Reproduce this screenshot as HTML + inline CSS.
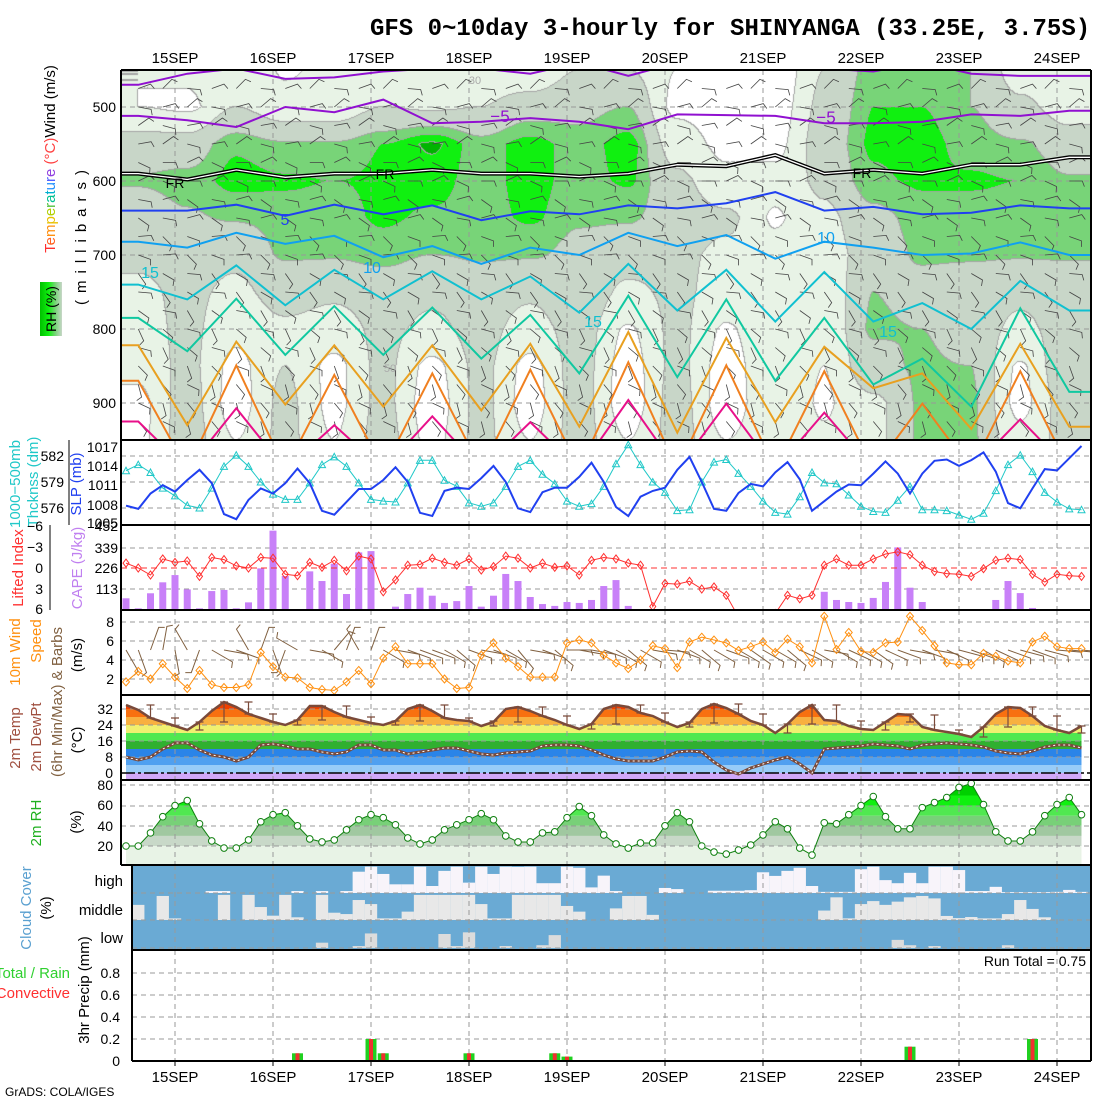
<!DOCTYPE html>
<html><head><meta charset="utf-8">
<style>
body{margin:0;background:#fff;width:1100px;height:1100px;overflow:hidden;position:relative;font-family:"Liberation Sans",sans-serif}
#rhc{position:absolute;left:121px;top:70px}
#svg{position:absolute;left:0;top:0}
text{font-family:"Liberation Sans",sans-serif}
</style></head>
<body>
<canvas id="rhc" width="970" height="370"></canvas>
<svg id="svg" xmlns="http://www.w3.org/2000/svg" width="1100" height="1100">
<defs>
<clipPath id="c1"><rect x="121" y="70" width="970" height="370"/></clipPath>
<clipPath id="c3"><rect x="121" y="525" width="970" height="85"/></clipPath>
<clipPath id="c4"><rect x="121" y="610" width="970" height="85"/></clipPath>
<linearGradient id="rhleg" x1="0" x2="1" y1="0" y2="0"><stop offset="0" stop-color="#00c000"/><stop offset="0.4" stop-color="#10f010"/><stop offset="0.7" stop-color="#78d478"/><stop offset="1" stop-color="#c8d6c8"/></linearGradient>
</defs>
<text x="370" y="35" font-size="24" font-weight="bold" style="font-family:'Liberation Mono',monospace">GFS 0~10day 3-hourly for SHINYANGA (33.25E, 3.75S)</text>
<g id="dyn"></g>
<g font-size="14" fill="#000">
<text transform="translate(55,159) rotate(-90)" text-anchor="middle" font-size="15"><tspan fill="#ff3030">T</tspan><tspan fill="#ff6020">e</tspan><tspan fill="#ff9010">m</tspan><tspan fill="#e8c000">p</tspan><tspan fill="#b0d000">e</tspan><tspan fill="#50c040">r</tspan><tspan fill="#00c090">a</tspan><tspan fill="#00b0d0">t</tspan><tspan fill="#2090ff">u</tspan><tspan fill="#5060ff">r</tspan><tspan fill="#9040e0">e</tspan><tspan fill="#ff4040"> (°C)</tspan><tspan fill="#000">Wind (m/s)</tspan></text>
<rect x="40" y="282" width="22" height="54" fill="url(#rhleg)"/>
<text transform="translate(56,309) rotate(-90)" text-anchor="middle" font-size="14">RH (%)</text>
<text transform="translate(86,234) rotate(-90)" text-anchor="middle" font-size="15" letter-spacing="7">(millibars)</text>
<g text-anchor="end">
<text x="116" y="112">500</text><text x="116" y="186">600</text><text x="116" y="260">700</text><text x="116" y="334">800</text><text x="116" y="408">900</text></g>
<text transform="translate(20,484) rotate(-90)" text-anchor="middle" fill="#20c8c8" font-size="15">1000−500mb</text>
<text transform="translate(38,482) rotate(-90)" text-anchor="middle" fill="#20c8c8" font-size="15">Thcknss (dm)</text>
<text transform="translate(81,484) rotate(-90)" text-anchor="middle" fill="#2040f0" font-size="15">SLP (mb)</text>
<line x1="69" y1="440" x2="69" y2="525" stroke="#000"/>
<g text-anchor="end"><text x="64" y="461">582</text><text x="64" y="487">579</text><text x="64" y="513">576</text></g>
<g text-anchor="end"><text x="118" y="452">1017</text><text x="118" y="471">1014</text><text x="118" y="490">1011</text><text x="118" y="510">1008</text><text x="118" y="528">1005</text></g>
<text transform="translate(23,568) rotate(-90)" text-anchor="middle" fill="#ff3030" font-size="15">Lifted Index</text>
<line x1="50" y1="525" x2="50" y2="610" stroke="#000"/>
<g text-anchor="end"><text x="43" y="531">−6</text><text x="43" y="552">−3</text><text x="43" y="573">0</text><text x="43" y="594">3</text><text x="43" y="614">6</text></g>
<text transform="translate(82,568) rotate(-90)" text-anchor="middle" fill="#c080f0" font-size="15">CAPE (J/kg)</text>
<g text-anchor="end"><text x="118" y="531">452</text><text x="118" y="553">339</text><text x="118" y="573">226</text><text x="118" y="594">113</text></g>
<text transform="translate(20,652) rotate(-90)" text-anchor="middle" fill="#ff9010" font-size="15">10m Wind</text>
<text transform="translate(41,641) rotate(-90)" text-anchor="middle" fill="#ff9010" font-size="15">Speed</text>
<text transform="translate(62,702) rotate(-90)" text-anchor="middle" fill="#806040" font-size="15">(6hr Min/Max) &amp; Barbs</text>
<text transform="translate(82,655) rotate(-90)" text-anchor="middle" font-size="15">(m/s)</text>
<g text-anchor="end"><text x="114" y="627">8</text><text x="114" y="646">6</text><text x="114" y="665">4</text><text x="114" y="684">2</text></g>
<text transform="translate(20,738) rotate(-90)" text-anchor="middle" fill="#a05040" font-size="15">2m Temp</text>
<text transform="translate(41,737) rotate(-90)" text-anchor="middle" fill="#a05040" font-size="15">2m DewPt</text>
<text transform="translate(82,740) rotate(-90)" text-anchor="middle" font-size="15">(°C)</text>
<g text-anchor="end"><text x="113" y="714">32</text><text x="113" y="730">24</text><text x="113" y="746">16</text><text x="113" y="762">8</text><text x="113" y="778">0</text></g>
<text transform="translate(41,823) rotate(-90)" text-anchor="middle" fill="#20b020" font-size="15">2m RH</text>
<text transform="translate(81,822) rotate(-90)" text-anchor="middle" font-size="15">(%)</text>
<g text-anchor="end"><text x="113" y="790">80</text><text x="113" y="810">60</text><text x="113" y="831">40</text><text x="113" y="851">20</text></g>
<text transform="translate(31,908) rotate(-90)" text-anchor="middle" fill="#5aa0d0" font-size="15">Cloud Cover</text>
<text transform="translate(51,908) rotate(-90)" text-anchor="middle" font-size="15">(%)</text>
<g text-anchor="end" font-size="15"><text x="123" y="886">high</text><text x="123" y="915">middle</text><text x="123" y="943">low</text></g>
<text x="70" y="978" text-anchor="end" fill="#30d030" font-size="15">Total / Rain</text>
<text x="70" y="998" text-anchor="end" fill="#ff3030" font-size="15">Convective</text>
<text transform="translate(89,990) rotate(-90)" text-anchor="middle" font-size="15">3hr Precip (mm)</text>
<g text-anchor="end"><text x="120" y="978">0.8</text><text x="120" y="1000">0.6</text><text x="120" y="1022">0.4</text><text x="120" y="1044">0.2</text><text x="120" y="1066">0</text></g>
<text x="1086" y="966" text-anchor="end" font-size="14">Run Total = 0.75</text>
<text x="5" y="1096" font-size="12">GrADS: COLA/IGES</text>
</g>
</svg>
<script>
const slp=[1007.7,1007.2,1009.6,1010.9,1009.9,1011.7,1013.3,1011.2,1006.4,1005.6,1008.6,1010.4,1009.6,1011.2,1013.5,1011.2,1006.9,1006.3,1008.3,1010.3,1010.3,1011.7,1013.7,
1011.4,1006.6,1006.1,1010.0,1010.5,1010.3,1012.0,1013.9,1011.4,1007.3,1006.7,1009.8,1010.5,1010.5,1012.2,1014.4,1011.4,1007.5,1006.1,1009.1,1010.0,1010.5,1013.3,1015.3,1011.4,1007.2,1006.9,
1009.7,1011.1,1010.7,1012.9,1014.5,1011.8,1006.9,1008.4,1009.9,1011.0,1010.9,1012.7,1014.6,1012.7,1009.6,1012.7,1014.7,1014.9,1013.9,1014.8,1016.0,1013.0,1008.1,1007.3,1010.4,1013.4,1013.2,1015.1,1017.0];
const thk=[580.3,581.0,580.1,578.3,577.4,576.3,576.0,578.3,580.8,582.1,580.8,579.0,577.6,577.0,577.0,578.9,581.0,581.9,580.8,578.9,577.0,576.8,
576.7,578.9,581.5,581.5,579.2,578.5,576.6,576.2,576.6,578.5,580.8,581.5,579.9,578.8,576.8,576.2,576.5,578.5,581.1,583.3,581.0,579.0,577.8,575.7,575.8,579.0,581.3,581.6,
580.0,578.5,576.8,575.5,575.3,577.3,580.1,578.9,578.8,577.5,576.2,575.6,575.5,576.9,578.5,575.8,575.8,575.7,575.2,574.7,575.4,578.0,581.0,582.1,580.2,577.8,576.7,575.9,575.8];
const cape=[63,9,90,149,188,111,9,102,108,9,41,224,427,183,4,208,156,249,86,310,317,0,18,
86,120,77,38,48,129,18,77,194,156,70,32,22,43,38,54,129,161,22,5,
0,0,0,0,0,0,0,0,0,0,0,0,0,0,
98,54,43,38,65,151,337,120,43,5,0,0,0,5,54,156,91,11,5,0,0,0];
const liftedIndex=[-0.7,0,1,-1.3,-0.8,-1,1.2,-1.5,-1.2,-0.3,0,-1.5,-1.4,0.9,1.1,-0.8,-0.1,-1.1,0.4,-1.7,-1.3,3.4,
1.7,-0.4,-0.5,-1.4,-0.8,-0.4,-1.3,0.3,-0.2,-1.7,-1.4,0,-0.7,-0.1,-0.3,1,-1.1,-1.5,-1.3,-0.7,-0.4,5.5,2.2,2.3,1.9,3,2.7,3.9,
7,7,7,6.5,3.9,4.4,3.9,-0.4,-1.3,-0.4,-0.4,-1.3,-2,-2.3,-1.9,-0.4,0.5,0.8,0.9,1.2,0.1,-1.1,-1.4,-1.2,0.9,2,0.9,1.1,1.2];
const windSpeed=[1.7,2.8,2,3.6,2.2,1,2.9,1.4,1.1,1.1,1.4,4.8,3.3,2.2,2.1,1.1,0.9,0.8,1.7,2.9,1.5,4.2,
5.4,3.6,3.6,3.6,2,1,1.1,4.5,5.8,4.2,3.3,2.2,2.2,2.2,5.8,6.1,5.8,4.5,3.7,3.1,4,5.5,5.2,3.2,5.9,6.4,6.1,5.8,
5,5.4,5.9,4.8,6.2,5.4,3.7,8.6,5.1,6.9,4.9,4.8,5.8,5.9,8.6,7.1,5.5,3.7,3.5,3.5,4.7,4.4,3.9,3.7,5.9,6.5,5.4,5.2,5.2];
const windDir=[150,160,20,10,170,330,200,120,100,110,330,20,160,200,300,100,120,40,20,330,20,120,
100,110,110,110,120,130,110,100,110,120,140,100,110,130,90,100,100,110,120,130,120,100,95,110,120,130,120,110,
120,125,120,120,130,115,120,100,120,115,120,125,115,110,100,110,100,115,105,110,120,115,110,105,110,105,95,95,95];
const temp2m=[34,31.5,27.5,25.5,23.5,21.5,25.5,31,35.5,33,29.5,27.5,25.5,24,26.5,33.5,33.5,30.5,28,26.5,25,24,26,
32,34,31,27.5,26.5,26,23.5,25.5,32,33,31,28.5,26.5,24,22,24.5,32,34,33,30,28.5,25.5,23,25,32,34.5,32.5,29.5,
26,24,20,24.5,30.5,34,26.5,26,23.5,22,21.5,25.5,29.5,29,23,21.5,20.5,19.5,18,23,29.5,33,32.5,28.5,23.5,21.5,20,23.5];
const dewpt2m=[8,6.5,8,12,15,15,11.5,9,8,6,8,14,14.5,13.5,12,12,10.5,9.5,10.5,14,14,11.5,11.5,
9.5,10.5,11.5,12.5,12.5,11,9.5,9,10,10.5,11,13.5,14,14,13.5,11.5,9,7,6,6,6,8,10.5,11,10.5,5.5,1.5,-0.5,
2.5,4.5,6.5,8,4.5,0,12,12.5,13,13.5,14.5,14,13.5,12,14,14.5,15,14.5,14,13,11,10,9.5,11,13,14,14,12.5];
const rh2m=[20,20,33,49,60,65,42,25,18,18,26,44,51,53,40,27,24,26,36,46,51,48,
41,28,22,26,36,41,46,52,46,30,24,24,33,34,48,59,50,31,22,18,23,23,40,53,44,20,14,12,
16,21,31,44,37,18,11,43,42,51,60,69,49,37,37,58,63,68,78,82,61,34,25,25,34,50,61,68,51];
const cloudHigh=[0,0,0,0,0,0,0,.07,.07,0,0,0,0,0,.07,0,.07,0,.07,.76,.94,.68,.31,.31,.94,.25,.79,.94,.37,.94,.68,.94,.93,.94,.35,.35,.94,.9,.2,.62,.07,0,0,0,.18,.14,0,0,.08,.08,.08,.1,.74,.61,.79,.9,.25,.04,.04,.04,.85,.94,.46,.35,.72,.35,.94,.94,.82,.07,.07,.22,.03,.03,.03,.03,.04,.11,.04];
const cloudMid=[0,.56,0,.89,.06,0,0,0,.93,0,.93,.48,.16,.93,.1,0,.93,.27,.22,.74,.59,.06,.06,.31,.93,.93,.93,.93,.93,.59,.06,.06,.93,.93,.93,.93,.52,.31,0,0,.43,.89,.89,.19,0,0,0,0,0,0,0,0,0,0,0,0,0,.35,.84,.06,.59,.7,.56,.68,.84,.89,.8,.15,.07,.11,.06,.06,.22,.74,.41,.1,0,0,0];
const cloudLow=[0,0,0,0,0,0,0,0,0,0,0,0,0,0,0,0,.19,0,0,.07,.52,0,0,0,0,0,.5,.07,.56,0,0,.07,0,0,.1,.46,0,0,0,0,0,0,0,0,0,0,0,0,0,0,0,0,0,0,0,0,0,0,0,0,0,0,0,.29,.1,0,.07,0,0,0,0,0,.1,0,0,0,0,0,0];
const precipTotal=[0,0,0,0,0,0,0,0,0,0,0,0,0,0,.07,0,0,0,0,0,.2,.07,0,0,0,0,0,0,.07,0,0,0,0,0,0,.07,.04,0,0,0,0,0,0,0,0,0,0,0,0,0,0,0,0,0,0,0,0,0,0,0,0,0,0,0,.13,0,0,0,0,0,0,0,0,0,.2,0,0,0,0];
const precipConv=[0,0,0,0,0,0,0,0,0,0,0,0,0,0,.07,0,0,0,0,0,.2,.07,0,0,0,0,0,0,.07,0,0,0,0,0,0,.07,.04,0,0,0,0,0,0,0,0,0,0,0,0,0,0,0,0,0,0,0,0,0,0,0,0,0,0,0,.13,0,0,0,0,0,0,0,0,0,.2,0,0,0,0];
const dayLabels=['15SEP','16SEP','17SEP','18SEP','19SEP','20SEP','21SEP','22SEP','23SEP','24SEP'];
const csLevels=[450,500,550,600,650,700,750,800,850,900,950];
const rhCols=[
[30,30,60,72,60,55,45,40,35,25,25],[35,25,60,75,68,58,55,55,55,58,60],[50,50,78,84,72,55,45,35,25,22,30],[28,35,72,82,75,72,60,45,50,55,55],
[35,35,72,80,75,72,55,40,25,25,30],[35,50,80,82,82,75,60,55,55,55,58],[35,45,92,85,78,70,55,45,25,20,25],[40,50,75,75,75,72,62,58,55,55,55],
[35,60,85,85,82,72,55,40,25,22,30],[50,65,75,75,72,65,68,60,58,58,58],[50,70,85,82,72,60,45,28,22,20,30],[30,25,40,55,60,55,55,55,55,58,58],
[15,20,25,35,55,45,40,28,22,20,30],[15,20,25,35,28,35,40,45,45,45,45],[50,55,60,55,45,40,35,35,30,28,32],[75,80,82,78,65,60,70,72,65,45,45],
[78,80,85,82,75,72,65,70,72,72,72],[70,70,75,82,75,72,62,62,70,72,72],[40,55,72,80,75,72,55,45,28,25,35],[35,40,60,72,72,72,60,60,68,60,58]];
const isoM10=[470,455,448,462,460,452,448,448,455,440,458,440,440,440,448,452,440,455,458,458];
const isoM5=[512,518,527,500,507,490,522,520,515,520,530,510,511,512,522,522,520,510,512,505];
const isoFR=[590,598,585,595,590,590,585,590,590,594,590,578,580,565,590,585,590,578,578,568];
const iso5=[640,640,632,647,632,645,633,653,641,645,633,637,630,615,640,635,645,643,633,637];
const iso10=[682,690,670,685,674,703,688,712,690,700,670,688,673,705,682,690,700,698,683,700];
const iso15=[740,760,714,768,720,760,722,760,729,778,712,775,720,790,723,790,765,800,735,775];
const iso20=[785,830,759,835,769,835,771,840,781,860,755,865,760,870,785,875,840,905,772,885];
const iso25=[822,930,817,902,822,905,822,910,820,932,804,940,812,926,824,880,860,935,820,932];
const iso30=[870,990,849,990,862,990,860,990,855,990,845,990,849,990,857,990,901,990,857,990];
const iso35=[925,990,907,990,930,990,918,990,926,990,896,990,901,990,913,990,990,990,922,990];
const barbLevels=[475,500,525,550,575,600,625,650,675,700,725,750,775,800,825,850,875,900,925];
const barbLevelDir=[70,75,80,80,90,90,100,100,110,110,120,120,125,130,130,135,140,140,140];

const NS='http://www.w3.org/2000/svg';
const root=document.getElementById('dyn');
function mk(tag,attrs,parent){const e=document.createElementNS(NS,tag);for(const k in attrs)e.setAttribute(k,attrs[k]);(parent||root).appendChild(e);return e;}
const N=79;
const xOf=i=>126+i*12.25;
const dayX=d=>175+98*d;
const colX=k=>xOf(1+4*k);
const yP=p=>107+(p-500)*0.74;
const ySLP=v=>446+(1017-v)*6.42;
const yThk=v=>456+(582-v)*8.67;
const yCape=v=>610-v*0.1858;
const yLI=v=>568+v*7;
const yW=v=>679-(v-2)*9.5;
const yT=v=>773-v*2;
const yR=v=>846-(v-20)*1.01;
const yPr=v=>1061-v*110;
const pts=(arr,fy)=>arr.map((v,i)=>xOf(i).toFixed(1)+','+fy(v).toFixed(1)).join(' ');

(function(){
 const cv=document.getElementById('rhc');const ctx=cv.getContext('2d');
 const W=970,H=370;const img=ctx.createImageData(W,H);const lv=new Uint8Array(W*H);
 const th=[30,50,70,80,90];
 const cols=[[255,255,255],[232,243,230],[200,214,200],[120,212,120],[16,240,16],[0,180,0]];
 for(let px=0;px<W;px++){
  let kf=(121+px+0.5-colX(0))/49;kf=Math.max(0,Math.min(19,kf));
  let k0=Math.min(18,Math.floor(kf));let f=kf-k0;f=(1-Math.cos(f*Math.PI))/2;
  for(let py=0;py<H;py++){
   const p=500+(70+py+0.5-107)/0.74;let lf=(p-450)/50;lf=Math.max(0,Math.min(10,lf));
   const l0=Math.min(9,Math.floor(lf));const g=lf-l0;
   const a=rhCols[k0][l0]*(1-g)+rhCols[k0][l0+1]*g;
   const b=rhCols[k0+1][l0]*(1-g)+rhCols[k0+1][l0+1]*g;
   const v=a*(1-f)+b*f;let L=0;for(const t of th)if(v>=t)L++;
   lv[py*W+px]=L;
  }
 }
 for(let py=0;py<H;py++)for(let px=0;px<W;px++){
  const L=lv[py*W+px];let c=cols[L];
  if((px<W-1&&lv[py*W+px+1]!==L)||(py<H-1&&lv[(py+1)*W+px]!==L))c=[165,165,165];
  const o=(py*W+px)*4;img.data[o]=c[0];img.data[o+1]=c[1];img.data[o+2]=c[2];img.data[o+3]=255;
 }
 ctx.putImageData(img,0,0);
})();

const g1=mk('g',{'clip-path':'url(#c1)'});


for(let d=0;d<10;d++){const l=mk('line',{x1:dayX(d),x2:dayX(d),y1:70,y2:440,stroke:'#999','stroke-dasharray':'5,4'},g1);

}
[500,600,700,800,900].forEach(p=>{const l=mk('line',{x1:121,x2:1091,y1:yP(p),y2:yP(p),stroke:'#999','stroke-dasharray':'5,4'},g1);

});
function barb(parent,x,y,dir,L,color,name,w){
 const r=dir*Math.PI/180;const ex=x+Math.sin(r)*L,ey=y-Math.cos(r)*L;
 const tx=ex+Math.sin(r+Math.PI/2.6)*6,ty=ey-Math.cos(r+Math.PI/2.6)*6;
 const e=mk('path',{d:`M${x.toFixed(1)},${y.toFixed(1)}L${ex.toFixed(1)},${ey.toFixed(1)}L${tx.toFixed(1)},${ty.toFixed(1)}`,stroke:color,'stroke-width':w||1,fill:'none'},parent);
 
 
}
barbLevels.forEach((p,j)=>{for(let i=1;i<N;i+=2){barb(g1,xOf(i),yP(p),barbLevelDir[j]+((i+j)%3-1)*25,13,'#444','upper-wind-barb',0.8);}});
const isos=[[isoM10,'#9010d0',2,'isotherm-minus10'],[isoM5,'#9010d0',2,'isotherm-minus5'],[iso5,'#2040f0',2,'isotherm-5'],[iso10,'#10a0f0',2,'isotherm-10'],[iso15,'#10c0d0',2,'isotherm-15'],[iso20,'#10c8a0',2,'isotherm-20'],[iso25,'#e8a020',2,'isotherm-25'],[iso30,'#f08020',2,'isotherm-30'],[iso35,'#e8108a',2,'isotherm-35']];
function isoPts(arr){const a=[[121,yP(arr[0])]];arr.forEach((p,k)=>a.push([colX(k),yP(p)]));a.push([1091,yP(arr[19])]);return a.map(q=>q[0].toFixed(1)+','+q[1].toFixed(1)).join(' ');}
isos.forEach(s=>{const e=mk('polyline',{points:isoPts(s[0]),fill:'none',stroke:s[1],'stroke-width':s[2]},g1);

});
const fr1=mk('polyline',{points:isoPts(isoFR),fill:'none',stroke:'#000','stroke-width':4},g1);


const fr2=mk('polyline',{points:isoPts(isoFR),fill:'none',stroke:'#fff','stroke-width':1.3},g1);


const clabels=[['−5',500,122,'#9010d0',17],['−5',826,123,'#9010d0',17],['FR',175,188,'#000',14],['FR',385,179,'#000',14],['FR',862,178,'#000',14],['5',285,225,'#2040f0',16],['10',372,273,'#10a0f0',16],['10',826,243,'#10a0f0',16],['15',150,278,'#10c0d0',16],['15',593,327,'#10c0d0',16],['15',888,337,'#10c0d0',16],['30',475,84,'#aaa',11],['50',390,372,'#aaa',11]];
clabels.forEach(c=>{const t=mk('text',{x:c[1],y:c[2],fill:c[3],'font-size':c[4],'text-anchor':'middle'},g1);t.textContent=c[0];

});

function gridV(y1,y2){for(let d=0;d<10;d++){const l=mk('line',{x1:dayX(d),x2:dayX(d),y1:y1,y2:y2,stroke:'#999','stroke-dasharray':'5,4'});

}}
function gridH(y,x1){const l=mk('line',{x1:x1||121,x2:1091,y1:y,y2:y,stroke:'#999','stroke-dasharray':'5,4'});

}

gridV(440,525);[456,482,508].forEach(y=>gridH(y));
const thkLine=mk('polyline',{points:pts(thk,yThk),fill:'none',stroke:'#20c8c8','stroke-width':1});


thk.forEach((v,i)=>{const x=xOf(i),y=yThk(v);const t=mk('path',{d:`M${x-3.5},${y+3}L${x+3.5},${y+3}L${x},${y-3.5}Z`,fill:'none',stroke:'#20c8c8'});

});
const slpLine=mk('polyline',{points:pts(slp,ySLP),fill:'none',stroke:'#2040f0','stroke-width':2});



gridV(525,610);[548,589].forEach(y=>gridH(y));
cape.forEach((v,i)=>{if(v<=0)return;const r=mk('rect',{x:xOf(i)-3.5,y:yCape(v),width:7,height:610-yCape(v),fill:'#c880f8'});

});
const liZero=mk('line',{x1:121,x2:1091,y1:yLI(0),y2:yLI(0),stroke:'#ff3030','stroke-dasharray':'6,4'});


const g3=mk('g',{'clip-path':'url(#c3)'});


const liLine=mk('polyline',{points:pts(liftedIndex,yLI),fill:'none',stroke:'#ff3030','stroke-width':1},g3);


liftedIndex.forEach((v,i)=>{const x=xOf(i),y=yLI(v);const d=mk('path',{d:`M${x},${y-4}L${x+3},${y}L${x},${y+4}L${x-3},${y}Z`,fill:'none',stroke:'#ff3030'},g3);

});

gridV(610,695);[622,641,660,679].forEach(y=>gridH(y));
const g4=mk('g',{'clip-path':'url(#c4)'});


windDir.forEach((d,i)=>barb(g4,xOf(i),650,d,24,'#806040','surface-wind-barb',1));
const wl=mk('polyline',{points:pts(windSpeed,yW),fill:'none',stroke:'#ff9010','stroke-width':1},g4);


windSpeed.forEach((v,i)=>{const x=xOf(i),y=yW(v);const d=mk('path',{d:`M${x},${y-4}L${x+3.5},${y}L${x},${y+4}L${x-3.5},${y}Z`,fill:'none',stroke:'#ff9010'},g4);

});

const tcp=mk('clipPath',{id:'tclip'});


const tArea=mk('path',{d:'M'+xOf(0)+',780L'+temp2m.map((v,i)=>xOf(i).toFixed(1)+','+yT(v).toFixed(1)).join('L')+'L'+xOf(N-1)+',780Z'},tcp);


const tBands=[[-5,0,'#d0a8f8'],[0,4,'#98ccf8'],[4,8,'#50a0f0'],[8,12,'#2a84e8'],[12,16,'#30b030'],[16,20,'#50e850'],[20,24,'#f0f070'],[24,28,'#f8b040'],[28,32,'#f87010'],[32,36,'#f04000'],[36,45,'#d02000']];
const tg=mk('g',{'clip-path':'url(#tclip)'});


tBands.forEach(b=>{const y1=Math.max(yT(b[1]),695),y2=Math.min(yT(b[0]),780);const r=mk('rect',{x:xOf(0),y:y1,width:xOf(N-1)-xOf(0),height:y2-y1,fill:b[2]},tg);

});
gridV(695,780);[709,725,741,757].forEach(y=>gridH(y));
const zl=mk('line',{x1:121,x2:1091,y1:yT(0),y2:yT(0),stroke:'#000','stroke-width':1.5,'stroke-dasharray':'14,3,3,3'});


for(let i=2;i<N;i+=2){const w=temp2m.slice(i-2,i+1);const hi=yT(Math.max(...w)),lo=yT(Math.min(...w)),x=xOf(i);
const e=mk('path',{d:`M${x},${hi}L${x},${lo}M${x-4},${hi}L${x+4},${hi}M${x-4},${lo}L${x+4},${lo}`,stroke:'#7a4a3a','stroke-width':1.2,fill:'none'});

}
const tl=mk('polyline',{points:pts(temp2m,yT),fill:'none',stroke:'#7a4a3a','stroke-width':2.5});


const dl=mk('polyline',{points:pts(dewpt2m,yT),fill:'none',stroke:'#7a4a3a','stroke-width':3});


const dl2=mk('polyline',{points:pts(dewpt2m,yT),fill:'none',stroke:'#fff','stroke-width':1,'stroke-dasharray':'2,3'});



const rcp=mk('clipPath',{id:'rclip'});


const rArea=mk('path',{d:'M'+xOf(0)+',865L'+rh2m.map((v,i)=>xOf(i).toFixed(1)+','+yR(v).toFixed(1)).join('L')+'L'+xOf(N-1)+',865Z'},rcp);


const rBands=[[0,20,'#e8f3e6'],[20,30,'#c8d8c8'],[30,40,'#a0c8a0'],[40,50,'#78d078'],[50,60,'#50e850'],[60,70,'#10f010'],[70,80,'#00d000'],[80,100,'#00b400']];
const rg=mk('g',{'clip-path':'url(#rclip)'});


rBands.forEach(b=>{const y1=Math.max(yR(b[1]),780),y2=Math.min(yR(b[0]),865);const r=mk('rect',{x:xOf(0),y:y1,width:xOf(N-1)-xOf(0),height:y2-y1,fill:b[2]},rg);

});
gridV(780,865);[785,806,826,846].forEach(y=>gridH(y));
const rl=mk('polyline',{points:pts(rh2m,yR),fill:'none',stroke:'#108010','stroke-width':1});


rh2m.forEach((v,i)=>{const c=mk('circle',{cx:xOf(i),cy:yR(v),r:3.3,fill:'#fff',stroke:'#108010'});

});

const cbg=mk('rect',{x:132,y:865,width:959,height:85,fill:'#6aaad4'});


const layers=[[cloudHigh,893,28,'#f8f4fa','cloud-high-bar'],[cloudMid,920,27,'#e8e8e8','cloud-mid-bar'],[cloudLow,948,28,'#dcdcdc','cloud-low-bar']];
layers.forEach(L=>{L[0].forEach((v,i)=>{if(i===0||v<=0)return;const h=v*L[2];const r=mk('rect',{x:xOf(i)-6.125,y:L[1]-h,width:12.3,height:h,fill:L[3]});

});});
gridV(865,950);[893,920,948].forEach(y=>gridH(y,132));

gridV(950,1061);[973,995,1017,1039].forEach(y=>gridH(y,132));
precipTotal.forEach((v,i)=>{if(v<=0)return;const r=mk('rect',{x:xOf(i)-5.5,y:yPr(v),width:11,height:1061-yPr(v),fill:'#20d020'});

});
precipConv.forEach((v,i)=>{if(v<=0)return;const r=mk('rect',{x:xOf(i)-2,y:yPr(v),width:4,height:1061-yPr(v),fill:'#f03030'});

});

const frames=[[121,70,1091,70],[121,440,1091,440],[121,525,1091,525],[121,610,1091,610],[121,695,1091,695],[121,780,1091,780],[121,865,1091,865],[132,950,1091,950],[132,1061,1091,1061],[121,70,121,865],[132,865,132,1061],[1091,70,1091,1061]];
frames.forEach(f=>{const l=mk('line',{x1:f[0],y1:f[1],x2:f[2],y2:f[3],stroke:'#000','stroke-width':2});

});
dayLabels.forEach((s,d)=>{
 const t=mk('text',{x:dayX(d),y:63,'text-anchor':'middle','font-size':15});t.textContent=s;
 
 
 const b=mk('text',{x:dayX(d),y:1082,'text-anchor':'middle','font-size':15});b.textContent=s;
 
 
 const k=mk('line',{x1:dayX(d),x2:dayX(d),y1:1061,y2:1066,stroke:'#000'});
 
 
});
</script>
</body></html>
